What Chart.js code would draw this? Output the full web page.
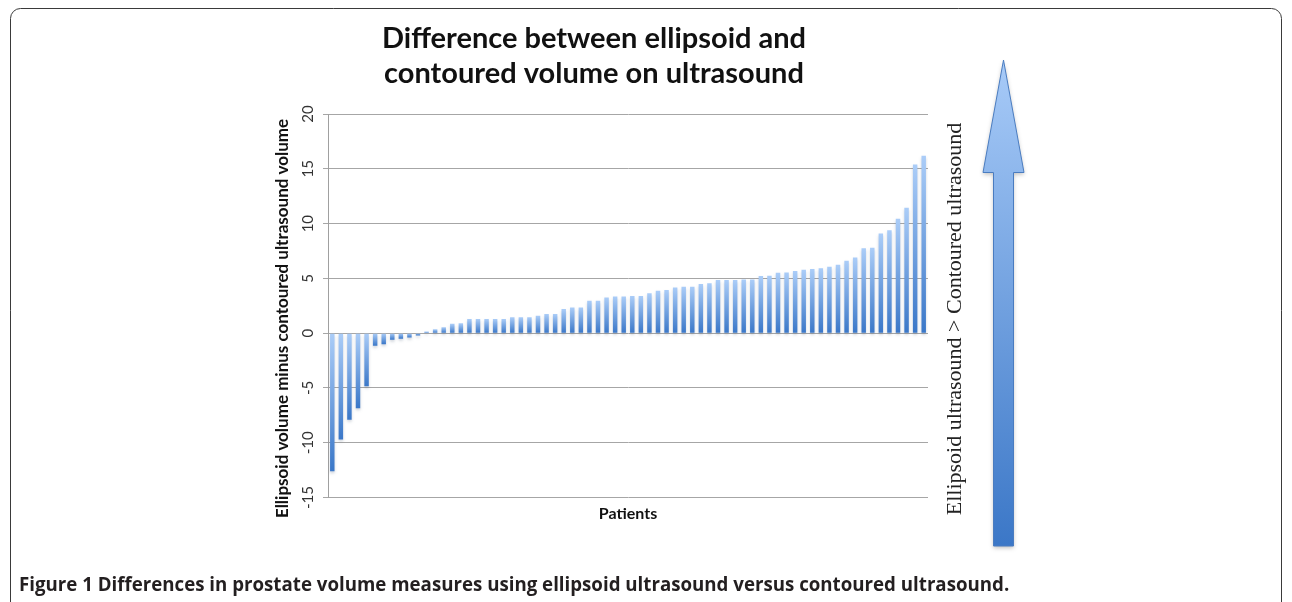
<!DOCTYPE html>
<html>
<head>
<meta charset="utf-8">
<script src="https://cdn.jsdelivr.net/npm/chart.js@4.4.1/dist/chart.umd.min.js"></script>
<style>
  html, body { margin: 0; padding: 0; background: #ffffff; }
  #wrap { position: relative; width: 1292px; height: 602px; overflow: hidden; }
  #c { position: absolute; left: 0; top: 0; }
  #caption { position: absolute; left: 19px; top: 571px; font-family: "Open Sans", Arial, sans-serif; font-size: 18.7px; font-weight: bold; color: #231f20; white-space: nowrap; }
</style>
</head>
<body>
<div id="wrap">
  <canvas id="c" width="1292" height="602"></canvas>
  <div id="caption">Figure 1 Differences in prostate volume measures using ellipsoid ultrasound versus contoured ultrasound.</div>
</div>
<script>
// ---- data ----
const chartTitle = ["Difference between ellipsoid and", "contoured volume on ultrasound"];
const yAxisTitle = "Ellipsoid volume minus contoured ultrasound volume";
const xAxisTitle = "Patients";
const sideLabel = "Ellipsoid ultrasound > Contoured ultrasound";
const differences = [
  -12.6, -9.7, -7.9, -6.85, -4.85, -1.15, -1.0, -0.6, -0.5, -0.4,
  -0.2, 0.15, 0.35, 0.55, 0.85, 0.9, 1.3, 1.3, 1.3, 1.3,
  1.3, 1.45, 1.45, 1.45, 1.6, 1.75, 1.75, 2.2, 2.35, 2.35,
  2.97, 2.97, 3.25, 3.35, 3.35, 3.4, 3.4, 3.64, 3.88, 3.94,
  4.18, 4.24, 4.24, 4.48, 4.55, 4.85, 4.85, 4.85, 4.91, 4.91,
  5.21, 5.24, 5.52, 5.55, 5.68, 5.78, 5.85, 5.92, 6.06, 6.24,
  6.61, 6.91, 7.75, 7.8, 9.09, 9.39, 10.45, 11.45, 15.39, 16.2
];
const patients = differences.map((_, i) => "Patient " + (i + 1));
const yMin = -15, yMax = 20, yStep = 5;

// ---- styling helpers ----
function barGradient(ctx) {
  const chart = ctx.chart;
  if (!chart.chartArea || ctx.type !== 'data' || !ctx.parsed) return '#6f9fe0';
  const ys = chart.scales.y;
  const a = ys.getPixelForValue(ctx.parsed.y);
  const b = ys.getPixelForValue(0);
  const top = Math.min(a, b), bot = Math.max(a, b);
  if (bot - top < 1) return '#7ea9e6';
  const g = chart.ctx.createLinearGradient(0, top, 0, bot);
  g.addColorStop(0, '#abcdf8');
  g.addColorStop(1, '#3a77c8');
  return g;
}

const decorations = {
  id: 'decorations',
  beforeDatasetsDraw(chart) {
    const ctx = chart.ctx;
    ctx.save();
    ctx.shadowColor = 'rgba(60,80,110,0.25)';
    ctx.shadowBlur = 3;
    ctx.shadowOffsetY = 2;
  },
  afterDatasetsDraw(chart) {
    chart.ctx.restore();
  },
  afterDraw(chart) {
    const ctx = chart.ctx;
    const ys = chart.scales.y;
    // y tick labels, rotated
    ctx.save();
    ctx.font = '15px Lato';
    ctx.fillStyle = '#333333';
    ctx.textAlign = 'center';
    ctx.textBaseline = 'middle';
    ys.ticks.forEach(t => {
      const py = ys.getPixelForValue(t.value);
      ctx.save();
      ctx.translate(ys.right - 20, py);
      ctx.rotate(-Math.PI / 2);
      ctx.fillText(String(t.value), 0, 0);
      ctx.restore();
    });
    ctx.restore();

    // y axis title, rotated
    ctx.save();
    ctx.font = 'bold 17px Lato';
    ctx.fillStyle = '#111111';
    ctx.textAlign = 'center';
    ctx.textBaseline = 'middle';
    ctx.translate(ys.left + 23, ys.bottom - 179);
    ctx.rotate(-Math.PI / 2);
    ctx.fillText(yAxisTitle, 0, 0);
    ctx.restore();

    // side arrow
    ctx.save();
    const tipX = 1003.5, tipY = 60, headY = 172.5, headL = 983, headR = 1024, shaftL = 993.5, shaftR = 1013.5, botY = 546;
    const g = ctx.createLinearGradient(0, tipY, 0, botY);
    g.addColorStop(0, '#a8cbf8');
    g.addColorStop(1, '#3b77c7');
    ctx.beginPath();
    ctx.moveTo(tipX, tipY);
    ctx.lineTo(headR, headY);
    ctx.lineTo(shaftR, headY);
    ctx.lineTo(shaftR, botY);
    ctx.lineTo(shaftL, botY);
    ctx.lineTo(shaftL, headY);
    ctx.lineTo(headL, headY);
    ctx.closePath();
    ctx.shadowColor = 'rgba(0,0,0,0.25)';
    ctx.shadowBlur = 4;
    ctx.shadowOffsetY = 2;
    ctx.fillStyle = g;
    ctx.fill();
    ctx.shadowColor = 'transparent';
    ctx.strokeStyle = '#4a7cc0';
    ctx.lineWidth = 1;
    ctx.stroke();
    ctx.restore();

    // side label
    ctx.save();
    ctx.font = '22px "Liberation Serif"';
    ctx.fillStyle = '#222222';
    ctx.textAlign = 'center';
    ctx.textBaseline = 'middle';
    ctx.translate(955, 319);
    ctx.rotate(-Math.PI / 2);
    ctx.fillText(sideLabel, 0, 0);
    ctx.restore();

    // frame
    ctx.save();
    ctx.strokeStyle = '#3a3a3a';
    ctx.lineWidth = 1;
    const x0 = 10.5, y0 = 8.5, x1 = 1281.5, y1 = 640, r = 10;
    ctx.beginPath();
    ctx.moveTo(x0, y1);
    ctx.lineTo(x0, y0 + r);
    ctx.arcTo(x0, y0, x0 + r, y0, r);
    ctx.lineTo(x1 - r, y0);
    ctx.arcTo(x1, y0, x1, y0 + r, r);
    ctx.lineTo(x1, y1);
    ctx.stroke();
    ctx.restore();
  }
};

new Chart(document.getElementById('c'), {
  type: 'bar',
  data: {
    labels: patients,
    datasets: [{
      data: differences,
      backgroundColor: barGradient,
      borderWidth: 0,
      categoryPercentage: 1,
      barPercentage: 0.52
    }]
  },
  options: {
    responsive: false,
    animation: false,
    events: [],
    layout: { padding: { left: 260, right: 364, top: 2, bottom: 79 } },
    plugins: {
      legend: { display: false },
      tooltip: { enabled: false },
      title: {
        display: true,
        text: chartTitle,
        color: '#111111',
        font: { family: 'Lato', size: 29, weight: 'bold', lineHeight: 1.2 },
        padding: { top: 19, bottom: 23.5 }
      }
    },
    scales: {
      x: {
        type: 'category',
        offset: true,
        grid: { display: false },
        border: { display: false },
        ticks: { display: false },
        title: {
          display: true,
          text: xAxisTitle,
          color: '#111111',
          font: { family: 'Lato', size: 16, weight: 'bold', lineHeight: 1.2 },
          padding: { top: 0, bottom: 0 }
        },
        afterFit: s => { s.height = 25.5; }
      },
      y: {
        min: yMin,
        max: yMax,
        ticks: { display: false, stepSize: yStep },
        grid: { color: '#a6a6a6', lineWidth: 1, drawTicks: true, tickLength: 5 },
        border: { display: true, color: '#a0a0a0', width: 1 },
        title: { display: false },
        afterFit: s => { s.width = 68; }
      }
    }
  },
  plugins: [decorations]
});
</script>
</body>
</html>
